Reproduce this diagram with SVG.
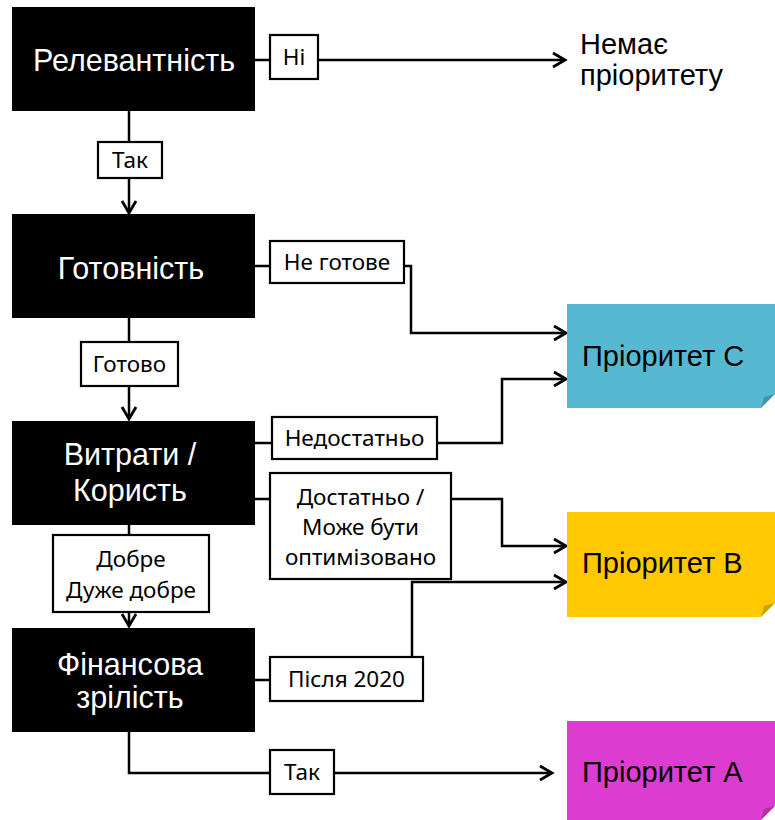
<svg xmlns="http://www.w3.org/2000/svg" width="775" height="820" viewBox="0 0 775 820">
<style>
.node{fill:#000}
.nt{font-family:"Liberation Sans",Arial,sans-serif;font-size:30.5px;fill:#fff;text-anchor:middle}
.pt{font-family:"Liberation Sans",Arial,sans-serif;font-size:29px;fill:#000}
.lb{fill:#fff;stroke:#000;stroke-width:2.2}
.lt{font-family:"Noto Sans","Liberation Sans",sans-serif;font-size:22.5px;fill:#000;text-anchor:middle}
.cn{fill:none;stroke:#000;stroke-width:2.5}
.fold{fill:#000;opacity:0.2}
</style>
<defs>
<marker id="arr" markerUnits="userSpaceOnUse" markerWidth="20" markerHeight="20" viewBox="-14 -10 16 20" refX="0" refY="0" orient="auto">
<path d="M-12,-7 L0,0 L-12,7" fill="none" stroke="#000" stroke-width="2.8"/>
</marker>
</defs>
<g id="connectors">
<path class="cn" d="M255,60 H565" marker-end="url(#arr)"/>
<path class="cn" d="M129,111 V213" marker-end="url(#arr)"/>
<path class="cn" d="M255,266 H411 V333 H566" marker-end="url(#arr)"/>
<path class="cn" d="M129,318 V419" marker-end="url(#arr)"/>
<path class="cn" d="M255,443 H502 V379 H566" marker-end="url(#arr)"/>
<path class="cn" d="M255,499 H502 V546 H566" marker-end="url(#arr)"/>
<path class="cn" d="M129,525 V626" marker-end="url(#arr)"/>
<path class="cn" d="M255,680 H412 V582 H566" marker-end="url(#arr)"/>
<path class="cn" d="M129,732 V773 H552" marker-end="url(#arr)"/>
</g>
<g id="labels">
<g id="lbl-ni"><rect class="lb" x="270" y="35" width="48" height="44"/><text class="lt" x="294" y="65">Ні</text></g>
<g id="lbl-tak1"><rect class="lb" x="98" y="142" width="64" height="36"/><text class="lt" x="130" y="168">Так</text></g>
<g id="lbl-negotove"><rect class="lb" x="270" y="241" width="134" height="42"/><text class="lt" x="337" y="270">Не готове</text></g>
<g id="lbl-gotovo"><rect class="lb" x="81" y="342" width="97" height="44"/><text class="lt" x="129.5" y="372">Готово</text></g>
<g id="lbl-nedost"><rect class="lb" x="272" y="417" width="165" height="42"/><text class="lt" x="354.5" y="446">Недостатньо</text></g>
<g id="lbl-dost"><rect class="lb" x="270" y="473" width="181" height="106"/><text class="lt" x="360.5" y="505">Достатньо /</text><text class="lt" x="360.5" y="535">Може бути</text><text class="lt" x="360.5" y="565">оптимізовано</text></g>
<g id="lbl-dobre"><rect class="lb" x="53" y="535" width="156" height="77"/><text class="lt" x="131" y="567">Добре</text><text class="lt" x="131" y="598">Дуже добре</text></g>
<g id="lbl-pislia"><rect class="lb" x="270" y="657" width="153" height="44"/><text class="lt" x="346.5" y="687">Після 2020</text></g>
<g id="lbl-tak2"><rect class="lb" x="270" y="750" width="64" height="44"/><text class="lt" x="302" y="780">Так</text></g>
</g>
<g id="relevance"><rect class="node" x="12" y="7" width="243" height="104"/><text class="nt" x="134" y="71">Релевантність</text></g>
<g id="readiness"><rect class="node" x="12" y="214" width="243" height="104"/><text class="nt" x="131" y="279">Готовність</text></g>
<g id="costbenefit"><rect class="node" x="12" y="421" width="243" height="104"/><text class="nt" x="130" y="465">Витрати /</text><text class="nt" x="130" y="501">Користь</text></g>
<g id="financial"><rect class="node" x="12" y="628" width="243" height="104"/><text class="nt" x="130" y="675">Фінансова</text><text class="nt" x="130" y="708">зрілість</text></g>
<g id="no-priority"><text class="pt" x="580" y="54">Немає</text><text class="pt" x="580" y="85">пріоритету</text></g>
<g id="priority-c"><path d="M567,304 H775 V394 L761,408 H567 Z" fill="#57B9D1"/><path class="fold" d="M775,394 L761,408 L764,397 Z"/><text class="pt" x="582" y="366">Пріоритет C</text></g>
<g id="priority-b"><path d="M567,512 H775 V603 L761,617 H567 Z" fill="#FFC800"/><path class="fold" d="M775,603 L761,617 L764,606 Z"/><text class="pt" x="582" y="573">Пріоритет B</text></g>
<g id="priority-a"><path d="M567,721 H775 V806 L761,820 H567 Z" fill="#DC3CCF"/><path class="fold" d="M775,806 L761,820 L764,809 Z"/><text class="pt" x="582" y="782">Пріоритет A</text></g>
</svg>
